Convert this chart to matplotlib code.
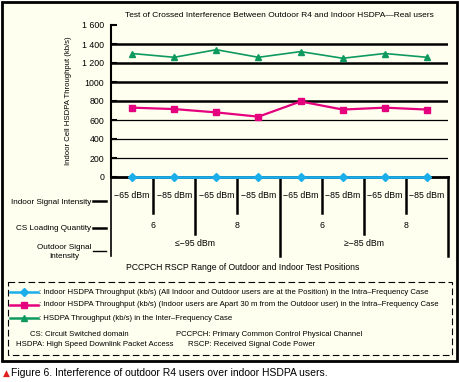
import matplotlib
matplotlib.use("Agg")
import matplotlib.pyplot as plt
import matplotlib.transforms as mtransforms
from matplotlib.patches import Rectangle

plt.rcParams["font.family"] = ["Liberation Sans", "DejaVu Sans"]

# data
positions = [0, 1, 2, 3, 4, 5, 6, 7]
same_position = [0, 0, 0, 0, 0, 0, 0, 0]
apart_30m = [730, 715, 680, 635, 795, 710, 730, 710]
inter_freq = [1300, 1260, 1340, 1260, 1320, 1250, 1300, 1260]

indoor_signal = ["\u221265 dBm", "\u221285 dBm", "\u221265 dBm", "\u221285 dBm",
                 "\u221265 dBm", "\u221285 dBm", "\u221265 dBm", "\u221285 dBm"]
cs_loading = ["6", "8", "6", "8"]
outdoor_signal = ["\u2264\u221295 dBm", "\u2265\u221285 dBm"]

y_ticks = [0, 200, 400, 600, 800, 1000, 1200, 1400, 1600]
y_tick_labels = ["0", "200", "400", "600", "800", "1000", "1 200", "1 400", "1 600"]

legend_texts = [
    ": Indoor HSDPA Throughput (kb/s) (All Indoor and Outdoor users are at the Position) in the Intra\u2013Frequency Case",
    ": Indoor HSDPA Throughput (kb/s) (Indoor users are Apart 30 m from the Outdoor user) in the Intra\u2013Frequency Case",
    ": HSDPA Throughput (kb/s) in the Inter\u2013Frequency Case",
]

BLUE = "#1caeea"
PINK = "#e5007d"
GREEN = "#0e9a5e"
CREAM = "#fffff0"

W, H = 459, 382
fig = plt.figure(figsize=(W / 100, H / 100), dpi=100)
fig.patch.set_facecolor("white")

# background overlay in pixel coords
bg = fig.add_axes([0, 0, 1, 1], zorder=0)
bg.set_xlim(0, W)
bg.set_ylim(H, 0)
bg.axis("off")
bg.add_patch(Rectangle((1.5, 1.5), 455, 359.5, facecolor=CREAM, edgecolor="black", lw=2.0))

# main axes: x 111..448, y 25..177 px
x0, x1, ytop, ybot = 111, 448, 25, 177
ax = fig.add_axes([x0 / W, 1 - ybot / H, (x1 - x0) / W, (ybot - ytop) / H], zorder=2)
ax.patch.set_alpha(0)
ax.set_xlim(-0.5, 7.5)
ax.set_ylim(0, 1600)
for s in ["top", "right", "bottom"]:
    ax.spines[s].set_visible(False)
ax.spines["left"].set_linewidth(1.5)
ax.set_xticks([])
ax.set_yticks(y_ticks)
ax.set_yticklabels(y_tick_labels, fontsize=6.3)
ax.tick_params(axis="y", direction="in", length=4, width=1.5, pad=5)

for v in [200, 400, 600]:
    ax.axhline(v, color="black", lw=0.9, zorder=1)
for v in [800, 1000, 1200, 1400]:
    ax.axhline(v, color="black", lw=1.8, zorder=1)
ax.axhline(0, color="black", lw=2.0, zorder=1, clip_on=False)

ax.plot(positions, same_position, color=BLUE, lw=2.0, marker="D", ms=4, zorder=3, clip_on=False)
ax.plot(positions, apart_30m, color=PINK, lw=1.6, marker="s", ms=4, zorder=3)
ax.plot(positions, inter_freq, color=GREEN, lw=1.2, marker="^", ms=5, zorder=3)

ax.set_title("Test of Crossed Interference Between Outdoor R4 and Indoor HSDPA\u2014Real users",
             fontsize=6, pad=6)

# table under the axis: x in data, y in pixels
def ay(ypix):
    return (ybot - ypix) / (ybot - ytop)

trans = mtransforms.blended_transform_factory(ax.transData, ax.transAxes)
n = len(indoor_signal)
cs_span = n // len(cs_loading)
out_span = n // len(outdoor_signal)
for b in range(n + 1):
    bx = b - 0.5
    if b % out_span == 0:
        yend = 256
    elif b % cs_span == 0:
        yend = 234
    else:
        yend = 213
    lw = 1.2 if b == 0 else 1.8
    ax.plot([bx, bx], [0, ay(yend)], color="black", lw=lw, transform=trans, clip_on=False)

for i, lab in enumerate(indoor_signal):
    ax.text(i, ay(195), lab, transform=trans, ha="center", va="center", fontsize=6.3)
for g, lab in enumerate(cs_loading):
    ax.text(g * cs_span + (cs_span - 1) / 2, ay(226), lab, transform=trans,
            ha="center", va="center", fontsize=6.3)
for g, lab in enumerate(outdoor_signal):
    ax.text(g * out_span + (out_span - 1) / 2, ay(243), lab, transform=trans,
            ha="center", va="center", fontsize=6.3)

# row labels
fs = 5.9
bg.text(91, 202, "Indoor Signal Intensity", ha="right", va="center", fontsize=fs)
bg.text(91, 228, "CS Loading Quantity", ha="right", va="center", fontsize=fs)
bg.text(91, 252, "Outdoor Signal\nIntensity", ha="right", va="center", fontsize=fs,
        multialignment="center", linespacing=1.5)
for yy, lw in [(201, 1.8), (228, 1.8), (251, 1.0)]:
    bg.plot([93, 106], [yy, yy], color="black", lw=lw)

bg.text(68, 101, "Indoor Cell HSDPA Throughput (kb/s)", rotation=90, ha="center",
        va="center", fontsize=5.6)
bg.text(243, 268, "PCCPCH RSCP Range of Outdoor and Indoor Test Positions",
        ha="center", va="center", fontsize=6.2)

# legend box
lfs = 5.6
bg.add_patch(Rectangle((8, 282), 444, 73, facecolor="none", edgecolor="black",
                       lw=0.8, linestyle=(0, (6, 3))))
for yy, col, mk, ms, txt in [(292, BLUE, "D", 4, legend_texts[0]),
                             (305, PINK, "s", 4, legend_texts[1]),
                             (318, GREEN, "^", 5, legend_texts[2])]:
    bg.plot([10, 38], [yy, yy], color=col, lw=1.8)
    bg.plot([24], [yy], color=col, marker=mk, ms=ms)
    bg.text(39, yy, txt, ha="left", va="center", fontsize=lfs)

bg.text(30, 335, "CS: Circuit Switched domain", ha="left", va="center", fontsize=lfs)
bg.text(16, 345, "HSDPA: High Speed Downlink Packet Access", ha="left", va="center", fontsize=lfs)
bg.text(176, 335, "PCCPCH: Primary Common Control Physical Channel", ha="left", va="center", fontsize=lfs)
bg.text(188, 345, "RSCP: Received Signal Code Power", ha="left", va="center", fontsize=lfs)

# caption
bg.text(3, 373, "\u25b2", ha="left", va="center", fontsize=6.5, color="#e0201b", family="DejaVu Sans")
bg.text(11, 373, "Figure 6. Interference of outdoor R4 users over indoor HSDPA users.",
        ha="left", va="center", fontsize=7.5)

fig.savefig("out.png", dpi=100)
